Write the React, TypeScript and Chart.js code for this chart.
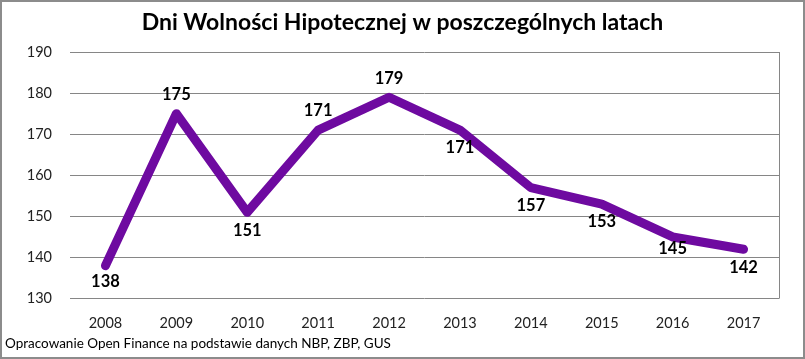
import React, { useEffect, useRef } from "react";
import { Chart, registerables } from "chart.js";

Chart.register(...registerables);

const years = ["2008", "2009", "2010", "2011", "2012", "2013", "2014", "2015", "2016", "2017"];
const days = [138, 175, 151, 171, 179, 171, 157, 153, 145, 142];
const labelBelow = [true, false, true, false, false, true, true, true, true, true];
const titleText = "Dni Wolności Hipotecznej w poszczególnych latach";
const footerText = "Opracowanie Open Finance na podstawie danych NBP, ZBP, GUS";

const FONT = "Lato, 'Open Sans', sans-serif";

const labelsPlugin = {
  id: "valueLabels",
  afterDatasetsDraw(chart: any) {
    const { ctx } = chart;
    const meta = chart.getDatasetMeta(0);
    ctx.save();
    ctx.font = `bold 16.5px ${FONT}`;
    ctx.fillStyle = "#000";
    ctx.textAlign = "center";
    ctx.textBaseline = "middle";
    meta.data.forEach((pt: any, i: number) => {
      let dy = labelBelow[i] ? 18 : -19;
      if (i === 8) dy = 12;
      if (i === 0) dy = 16;
      ctx.fillText(String(days[i]), pt.x, pt.y + dy);
    });
    ctx.restore();
  },
};

const framePlugin = {
  id: "frame",
  beforeDraw(chart: any) {
    const { ctx, width, height } = chart;
    ctx.save();
    ctx.fillStyle = "#fff";
    ctx.fillRect(0, 0, width, height);
    ctx.restore();
  },
  afterDraw(chart: any) {
    const { ctx, width, height, chartArea } = chart;
    ctx.save();
    ctx.strokeStyle = "#8c8c8c";
    ctx.lineWidth = 2;
    ctx.strokeRect(1, 1, width - 2, height - 2);
    ctx.strokeStyle = "#868686";
    ctx.lineWidth = 1;
    ctx.beginPath();
    ctx.moveTo(Math.round(chartArea.right) + 0.5, chartArea.top);
    ctx.lineTo(Math.round(chartArea.right) + 0.5, chartArea.bottom);
    ctx.stroke();
    // title
    ctx.font = `bold 23px ${FONT}`;
    ctx.fillStyle = "#000";
    ctx.textAlign = "center";
    ctx.textBaseline = "middle";
    ctx.fillText(titleText, width / 2, 23);
    // source note
    ctx.font = `13.5px ${FONT}`;
    ctx.textAlign = "left";
    ctx.fillText(footerText, 5, height - 15);
    ctx.restore();
  },
};

export default function App() {
  const ref = useRef<HTMLCanvasElement>(null);
  useEffect(() => {
    document.body.style.margin = "0";
    const chart = new Chart(ref.current!, {
      type: "line",
      data: {
        labels: years,
        datasets: [
          {
            data: days,
            borderColor: "#6E0AA0",
            borderWidth: 9,
            pointRadius: 0,
            tension: 0,
            borderCapStyle: "round",
            borderJoinStyle: "round",
          },
        ],
      },
      options: {
        animation: false,
        responsive: false,
        layout: { padding: { left: 5, right: 26, top: 52, bottom: 19 } },
        plugins: {
          legend: { display: false },
          tooltip: { enabled: false },
          title: { display: false },
        },
        scales: {
          x: {
            offset: true,
            grid: { display: false },
            border: { display: false },
            ticks: { color: "#222", font: { family: FONT, size: 14.5 }, padding: 8 },
          },
          y: {
            min: 130,
            max: 190,
            afterFit(scale: any) {
              scale.width = 65;
            },
            ticks: { stepSize: 10, color: "#222", font: { family: FONT, size: 14.5 }, padding: 18 },
            grid: { color: "#868686", drawTicks: false },
            border: { display: false },
          },
        },
      },
      plugins: [labelsPlugin, framePlugin],
    });
    return () => chart.destroy();
  }, []);
  return <canvas ref={ref} width={805} height={359} style={{ display: "block" }} />;
}
